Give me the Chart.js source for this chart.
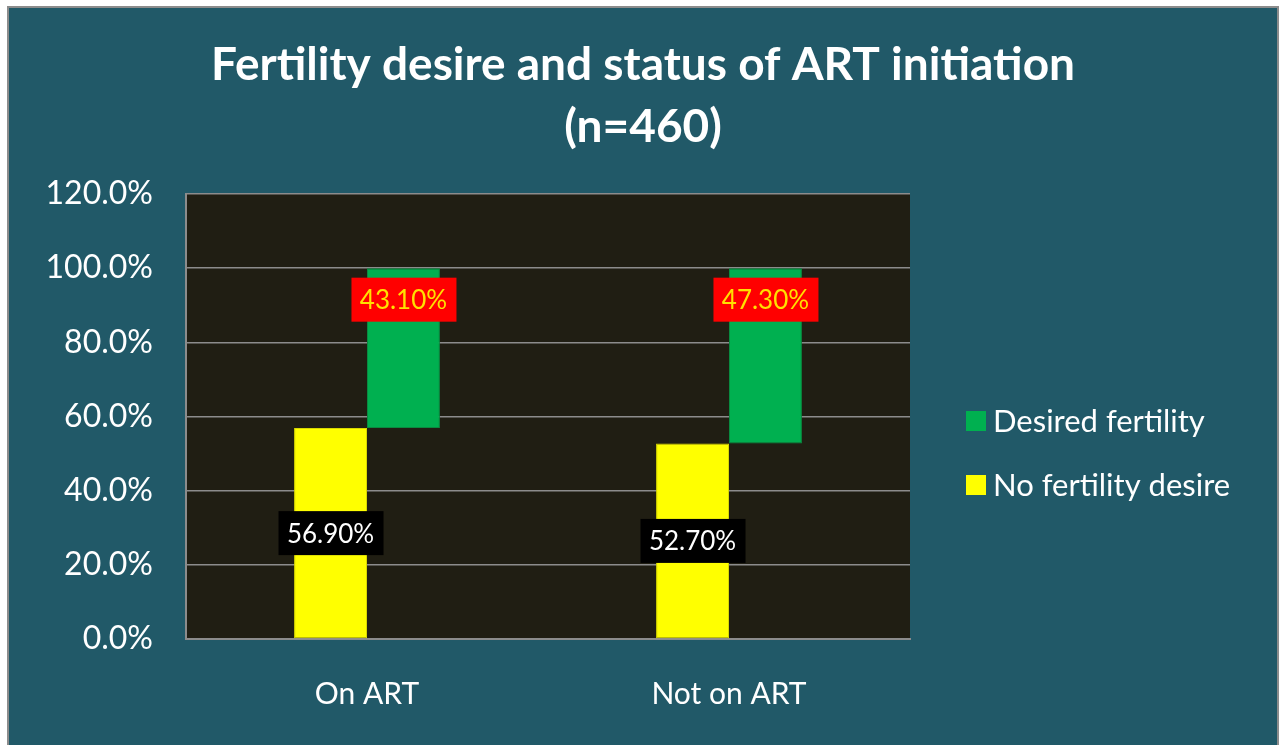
<!DOCTYPE html>
<html>
<head>
<meta charset="utf-8">
<script src="https://cdn.jsdelivr.net/npm/chart.js@4/dist/chart.umd.min.js"></script>
<style>
  body { margin: 0; background: #ffffff; }
  #wrap {
    position: absolute; left: 7px; top: 6px;
    width: 1268px; height: 739px;
    border-left: 2px solid #8c8c8c; border-top: 2px solid #8c8c8c; border-right: 2px solid #8c8c8c;
    background: #215968;
  }
  canvas { display: block; }
</style>
</head>
<body>
<div id="wrap"><canvas id="chart" width="1268" height="739"></canvas></div>
<script>
const categories = ["On ART", "Not on ART"];
const noDesire = [56.9, 52.7];
const desired = [43.1, 47.3];
const yTicks = [0, 20, 40, 60, 80, 100, 120];

const FONT = "Lato";

// dark plot area
const plotBg = {
  id: "plotBg",
  beforeDraw(chart) {
    const a = chart.chartArea;
    const ctx = chart.ctx;
    ctx.save();
    ctx.fillStyle = "#201e13";
    ctx.fillRect(a.left, a.top, a.right - a.left, a.bottom - a.top);
    ctx.restore();
  },
};

// value boxes on the bars
const valueBoxes = {
  id: "valueBoxes",
  afterDatasetsDraw(chart) {
    const ctx = chart.ctx;
    ctx.save();
    ctx.font = "26px " + FONT;
    ctx.textAlign = "center";
    ctx.textBaseline = "middle";
    chart.getDatasetMeta(0).data.forEach((bar, i) => {
      const cy = (bar.y + bar.base) / 2;
      ctx.fillStyle = "#000000";
      ctx.fillRect(bar.x - 52, cy - 22, 105, 44);
      ctx.fillStyle = "#ffffff";
      ctx.fillText(noDesire[i].toFixed(2) + "%", bar.x, cy + 1);
    });
    chart.getDatasetMeta(1).data.forEach((bar, i) => {
      const cy = bar.y + 31.5;
      ctx.fillStyle = "#ff0000";
      ctx.fillRect(bar.x - 52, cy - 22, 105, 44);
      ctx.fillStyle = "#ffe000";
      ctx.fillText(desired[i].toFixed(2) + "%", bar.x, cy + 1);
    });
    ctx.restore();
  },
};

// legend on the right, series listed top to bottom in reverse order
const sideLegend = {
  id: "sideLegend",
  afterDraw(chart) {
    const a = chart.chartArea;
    const ctx = chart.ctx;
    const mid = (a.top + a.bottom) / 2 + 36.5;
    ctx.save();
    ctx.font = "31px " + FONT;
    ctx.textAlign = "left";
    ctx.textBaseline = "middle";
    const items = chart.data.datasets.slice().reverse();
    items.forEach((ds, i) => {
      const cy = mid - 32 + i * 64;
      ctx.fillStyle = ds.backgroundColor;
      ctx.fillRect(a.right + 56, cy - 10, 20, 20);
      ctx.fillStyle = "#ffffff";
      ctx.fillText(ds.label, a.right + 83, cy + 1);
    });
    ctx.restore();
  },
};

new Chart(document.getElementById("chart"), {
  type: "bar",
  data: {
    labels: categories,
    datasets: [
      {
        label: "No fertility desire",
        data: noDesire,
        backgroundColor: "#ffff00",
        borderColor: "#d8d800",
        borderWidth: 1,
        borderSkipped: false,
      },
      {
        label: "Desired fertility",
        data: desired.map((v, i) => [noDesire[i], noDesire[i] + v]),
        backgroundColor: "#00b050",
        borderColor: "#0a8a40",
        borderWidth: 1,
        borderSkipped: false,
      },
    ],
  },
  options: {
    responsive: false,
    animation: false,
    categoryPercentage: 0.403,
    barPercentage: 1.0,
    layout: { padding: 0 },
    scales: {
      x: {
        grid: { display: false },
        border: { color: "#8c8c8c", width: 2 },
        ticks: { color: "#ffffff", font: { family: FONT, size: 30 }, padding: 29 },
        afterFit(s) { s.height = 108; },
      },
      y: {
        min: 0,
        max: 120,
        afterBuildTicks(s) { s.ticks = yTicks.map((v) => ({ value: v })); },
        grid: { color: "#8c8c8c", lineWidth: 1.5, drawTicks: false },
        border: { color: "#8c8c8c", width: 2 },
        ticks: {
          color: "#ffffff",
          font: { family: FONT, size: 32 },
          padding: 33,
          callback: (v) => v.toFixed(1) + "%",
        },
        afterFit(s) { s.width = 177; },
      },
      // empty right-hand strip that holds the legend
      legendSpace: {
        type: "linear",
        position: "right",
        display: true,
        grid: { display: false },
        border: { display: false },
        ticks: { display: false },
        afterFit(s) { s.width = 367; },
      },
    },
    plugins: {
      title: {
        display: true,
        text: ["Fertility desire and status of ART initiation", "(n=460)"],
        color: "#ffffff",
        font: { family: FONT, size: 46, weight: "bold", lineHeight: 1.348 },
        padding: { top: 26, bottom: 36 },
      },
      legend: { display: false },
      tooltip: { enabled: false },
    },
  },
  plugins: [plotBg, valueBoxes, sideLegend],
});
</script>
</body>
</html>
